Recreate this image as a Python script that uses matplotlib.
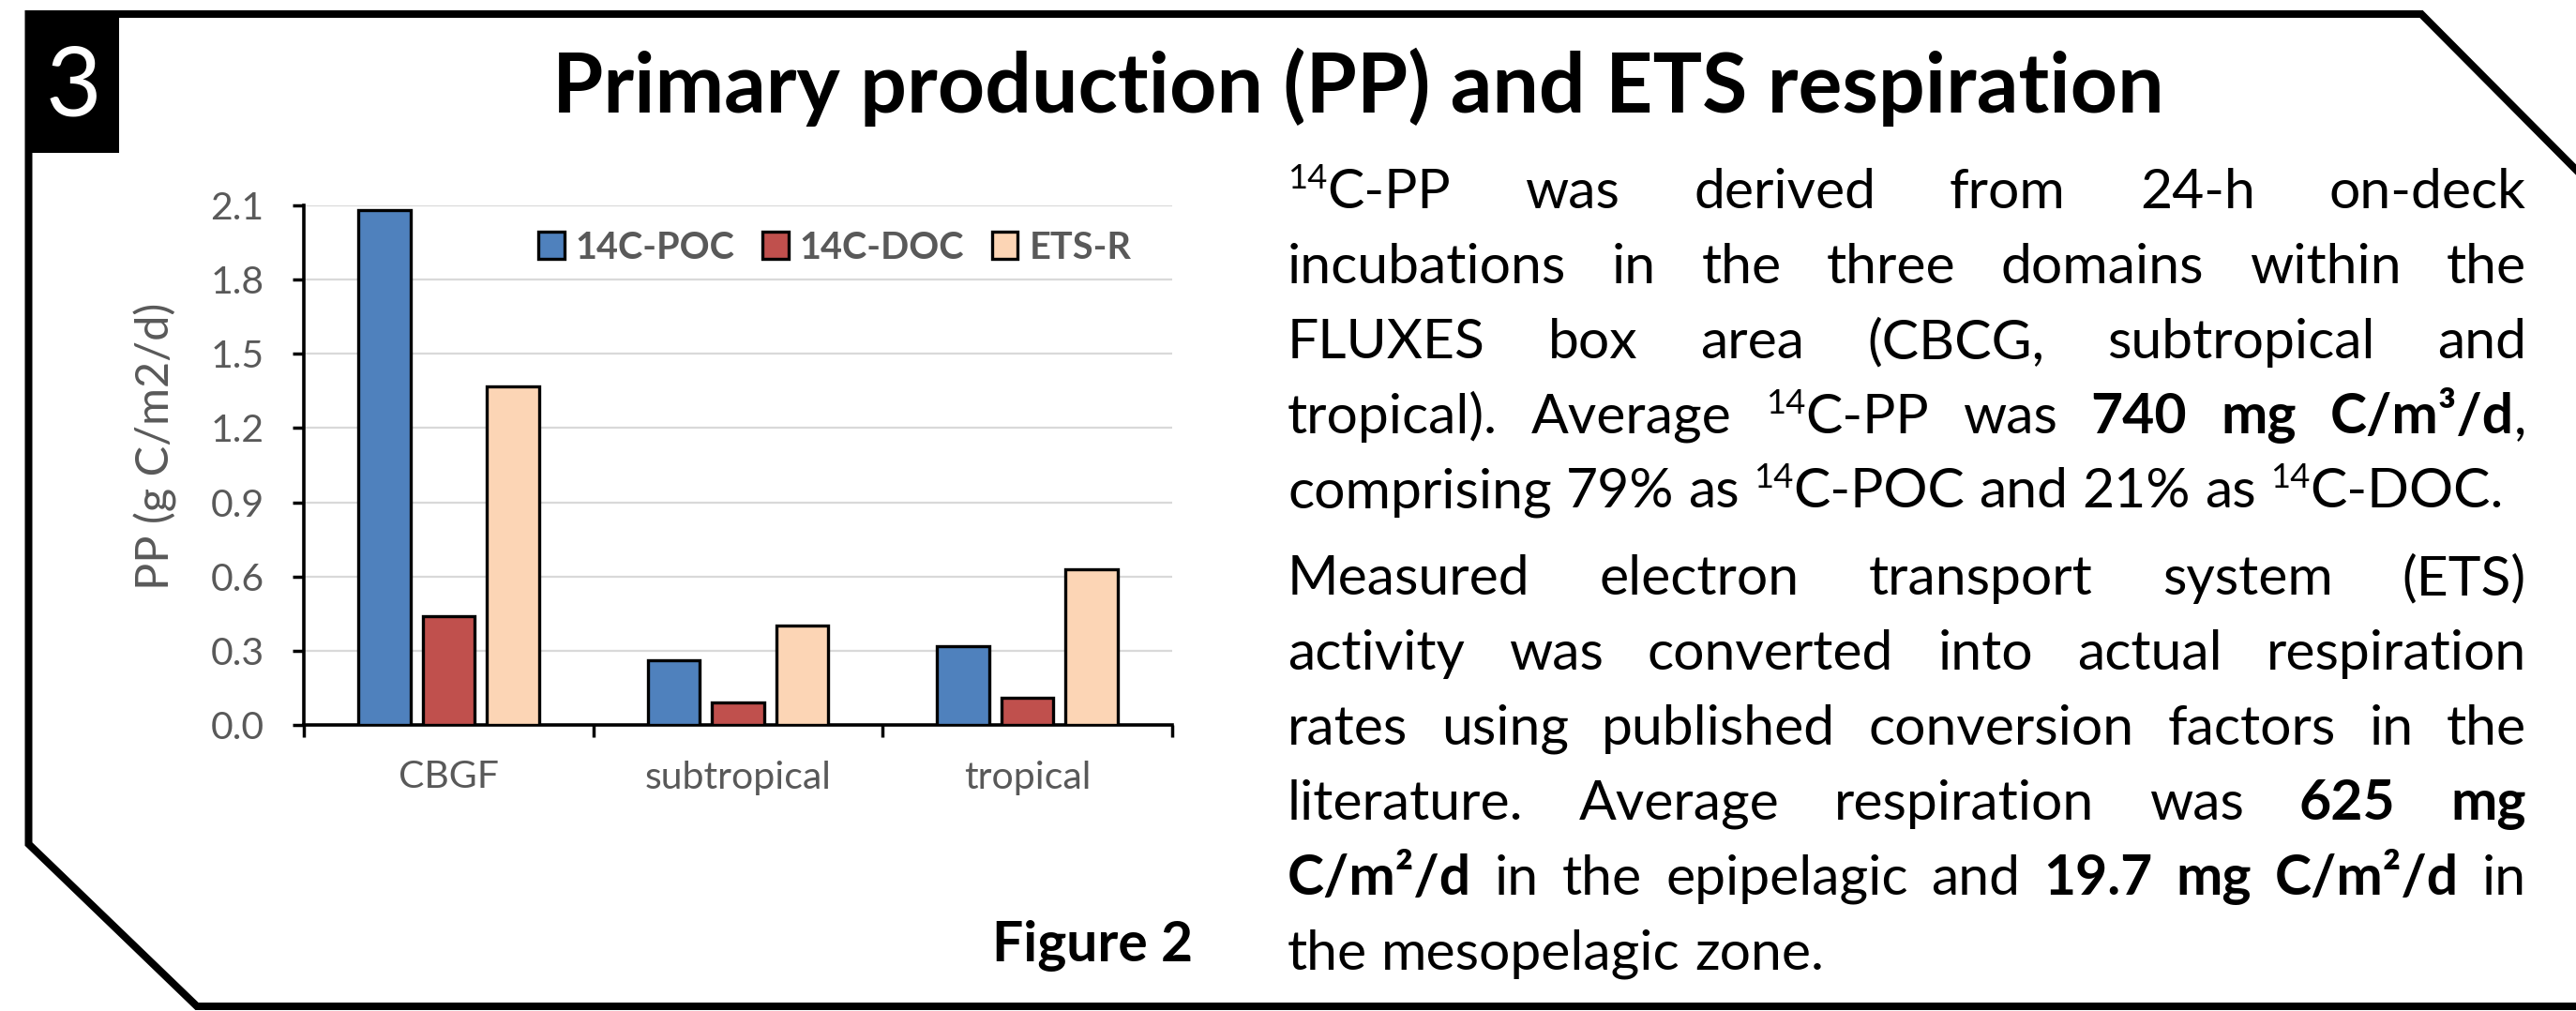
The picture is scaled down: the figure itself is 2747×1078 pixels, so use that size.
import matplotlib
matplotlib.use("Agg")
import matplotlib.pyplot as plt
import numpy as np
from matplotlib.patches import Rectangle

W, H = 2747, 1078
DPI = 100

# ---------------- data ----------------
categories = ["CBGF", "subtropical", "tropical"]
series_names = ["14C-POC", "14C-DOC", "ETS-R"]
poc_values = [2.08, 0.26, 0.32]
doc_values = [0.44, 0.09, 0.11]
ets_values = [1.37, 0.40, 0.63]
y_ticks = [0.0, 0.3, 0.6, 0.9, 1.2, 1.5, 1.8, 2.1]
y_label = "PP (g C/m2/d)"
title_text = "Primary production (PP) and ETS respiration"
section_number = "3"
figure_caption = "Figure 2"

paragraph1 = [
    "^{14}C-PP was derived from 24-h on-deck",
    "incubations in the three domains within the",
    "FLUXES box area (CBCG, subtropical and",
    "tropical). Average ^{14}C-PP was **740 mg C/m³/d**,",
    "comprising 79% as ^{14}C-POC and 21% as ^{14}C-DOC.",
]
paragraph2 = [
    "Measured electron transport system (ETS)",
    "activity was converted into actual respiration",
    "rates using published conversion factors in the",
    "literature. Average respiration was **625 mg**",
    "**C/m²/d** in the epipelagic and **19.7 mg C/m²/d** in",
    "the mesopelagic zone.",
]

# ---------------- style ----------------
colors = ["#4F81BD", "#C0504D", "#FCD5B5"]
GRAY = "#595959"
FONT = "Lato"
plt.rcParams['font.family'] = [FONT, 'DejaVu Sans']

PX = 72.0 / DPI  # points per pixel

fig = plt.figure(figsize=(W / DPI, H / DPI), dpi=DPI)
fig.patch.set_facecolor("white")
bg = fig.add_axes([0, 0, 1, 1], zorder=0)
bg.set_xlim(0, W)
bg.set_ylim(H, 0)
bg.axis('off')
renderer = fig.canvas.get_renderer()


def text_width(s, size, weight='normal'):
    t = bg.text(0, 0, s, fontsize=size, fontweight=weight)
    w = t.get_window_extent(renderer).width
    t.remove()
    return w


# ---------------- frame ----------------
slope = (181 - 15) / (2747 - 2582)
xr = 2790
bg.plot([xr, 2582, 30.5, 30.5, 210, xr],
        [15 + (xr - 2582) * slope, 15, 15, 900, 1073, 1073],
        color='black', lw=8 * PX, solid_joinstyle='miter', clip_on=False)
bg.add_patch(Rectangle((27, 11), 100, 152, facecolor='black', edgecolor='none'))
bg.text(78, 124, section_number, color='white', fontsize=74, ha='center', va='baseline')

# ---------------- title ----------------
tw = text_width(title_text, 60, 'bold')
title_size = 60 * 1717 / tw
bg.text(1448, 120, title_text, fontsize=title_size, fontweight='bold',
        ha='center', va='baseline', color='black')

# ---------------- caption ----------------
cw = text_width(figure_caption, 40, 'bold')
cap_size = 40 * 214 / cw
bg.text(1272, 1025, figure_caption, fontsize=cap_size, fontweight='bold',
        ha='right', va='baseline', color='black')

# ---------------- chart ----------------
ax = fig.add_axes([324 / W, 1 - 773 / H, (1250 - 324) / W, (773 - 219) / H], zorder=1)
ax.patch.set_alpha(0)
x = np.arange(len(categories))
bar_w = 0.18
offsets = [-0.222, 0.0, 0.222]
all_series = [poc_values, doc_values, ets_values]
for vals, off, c, name in zip(all_series, offsets, colors, series_names):
    ax.bar(x + off, vals, bar_w, color=c, edgecolor='black', linewidth=2.4,
           label=name, zorder=3)

ax.set_xlim(-0.5, 2.5)
ax.set_ylim(0, 2.1)
ax.set_yticks(y_ticks)
ax.set_yticklabels([f"{v:.1f}" for v in y_ticks])
ax.yaxis.grid(True, color='#D9D9D9', lw=1.6)
ax.set_axisbelow(True)
for s in ['top', 'right']:
    ax.spines[s].set_visible(False)
for s in ['left', 'bottom']:
    ax.spines[s].set_linewidth(2.6)
    ax.spines[s].set_color('black')
ax.tick_params(axis='y', direction='out', length=8.6, width=2.5, color='black',
               labelsize=29.5, labelcolor=GRAY, pad=22)
ax.set_xticks(x)
ax.set_xticklabels(categories)
ax.tick_params(axis='x', which='major', length=0, pad=27, labelsize=29.5, labelcolor=GRAY)
ax.set_xticks([-0.5, 0.5, 1.5, 2.5], minor=True)
ax.tick_params(axis='x', which='minor', length=9.4, width=2.5, direction='out', color='black')

bg.text(166, 476, y_label, rotation=90, ha='center', va='center',
        fontsize=35, color=GRAY)

leg = ax.legend(loc='center', bbox_to_anchor=(890 / W, 1 - 264 / H),
                bbox_transform=fig.transFigure, ncol=3, frameon=False,
                prop={'family': FONT, 'weight': 'bold', 'size': 28.5},
                labelcolor=GRAY, handlelength=0.7, handleheight=0.75,
                handletextpad=0.3, columnspacing=0.75, borderpad=0, borderaxespad=0)


# ---------------- body text ----------------
def parse(line):
    words, runs = [], []
    buf = ''
    bold = False
    i = 0

    def flush(b):
        nonlocal buf
        if buf:
            runs.append((buf, 'b' if b else 'r'))
            buf = ''

    while i < len(line):
        if line.startswith('**', i):
            flush(bold)
            bold = not bold
            i += 2
            continue
        if line.startswith('^{', i):
            flush(bold)
            j = line.index('}', i)
            runs.append((line[i + 2:j], 'sb' if bold else 's'))
            i = j + 1
            continue
        ch = line[i]
        if ch == ' ':
            flush(bold)
            if runs:
                words.append(runs)
                runs = []
            i += 1
            continue
        buf += ch
        i += 1
    flush(bold)
    if runs:
        words.append(runs)
    return words


SUP_SCALE = 0.62


def run_props(style, size):
    weight = 'bold' if 'b' in style else 'normal'
    sz = size * SUP_SCALE if style.startswith('s') else size
    return weight, sz


def word_width(word, size):
    return sum(text_width(t, run_props(st, size)[1], run_props(st, size)[0]) for t, st in word)


def line_natural(words, size):
    return [word_width(wd, size) for wd in words]


X0, X1 = 1373, 2694
ref = 40
ws = line_natural(parse(paragraph1[-1]), ref)
sp_ref = text_width("a a", ref) - text_width("aa", ref)
nat_a = sum(ws) + sp_ref * (len(ws) - 1)
size_a = ref * 1297 / nat_a
ws2 = line_natural(parse(paragraph2[4]), ref)
nat_b = sum(ws2) + sp_ref * (len(ws2) - 1)
size_b = ref * (X1 - X0 - 4) / nat_b
body_size = min(size_a, size_b)
space_w = text_width("a a", body_size) - text_width("aa", body_size)
size_px = body_size / PX


def draw_line(line, baseline, justify):
    words = parse(line)
    widths = line_natural(words, body_size)
    if justify and len(words) > 1:
        gap = (X1 - X0 - sum(widths)) / (len(words) - 1)
    else:
        gap = space_w
    xpos = X0
    for wd, w in zip(words, widths):
        xx = xpos
        for t, st in wd:
            weight, sz = run_props(st, body_size)
            yy = baseline - (0.36 * size_px if st.startswith('s') else 0)
            txt = bg.text(xx, yy, t, fontsize=sz, fontweight=weight,
                          ha='left', va='baseline', color='black')
            xx += txt.get_window_extent(renderer).width
        xpos += w + gap


baselines1 = [222, 302, 382, 462, 541]
baselines2 = [634, 714, 794, 874, 954, 1034]
for k, (ln, yb) in enumerate(zip(paragraph1, baselines1)):
    draw_line(ln, yb, k < len(paragraph1) - 1)
for k, (ln, yb) in enumerate(zip(paragraph2, baselines2)):
    draw_line(ln, yb, k < len(paragraph2) - 1)

fig.savefig("out.png", dpi=DPI, facecolor="white")
